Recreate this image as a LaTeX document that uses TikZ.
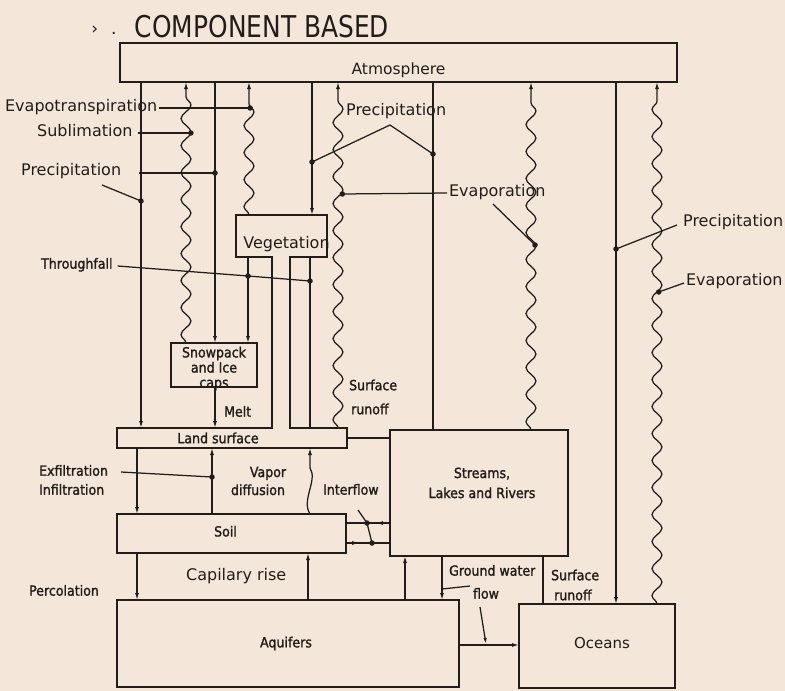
\documentclass[tikz,border=0pt]{standalone}
\usepackage{graphicx}
\usepackage{fontspec}
\setmainfont{DejaVu Sans}
\newfontfamily\lettB{DejaVu Sans}[FakeStretch=0.9,FakeBold=1.5]
\usetikzlibrary{arrows.meta,decorations.pathmorphing,decorations.markings}
\definecolor{paper}{RGB}{244,231,218}
\definecolor{ink}{RGB}{34,29,27}
% x position on a wavy line (x0, start y, y)
\newcommand\wx[3]{#1-5*sin(((#2-#3)/27)*360)}
\newcommand\vsh[2]{\raisebox{#1}[0pt][0pt]{#2}}
\begin{document}
\begin{tikzpicture}[x=1pt,y=-1pt,line width=1.25pt,color=ink,
  box/.style={draw,rectangle,inner sep=0pt,outer sep=0pt},
  lblA/.style={font=\fontsize{16}{19}\selectfont,inner sep=1.5pt,text height=0.73em,text depth=0pt},
  lblB/.style={font=\lettB\fontsize{14}{16}\selectfont,inner sep=1.5pt,text height=0.73em,text depth=0pt},
  lblBm/.style={font=\lettB\fontsize{14}{#1}\selectfont,inner sep=1.5pt},
  arr/.style={-{Latex[length=7pt,width=4pt]}},
  wavy/.style={decorate,decoration={snake,amplitude=5pt,segment length=27pt,post length=9pt}},
  midarr/.style={postaction={decorate},decoration={markings,mark=at position #1 with {\arrow{Latex[length=7pt,width=4pt]}}}},
  dotc/.style={fill,circle,inner sep=0pt,minimum size=5.5pt}]
\fill[paper] (0,0) rectangle (785,691);
\useasboundingbox (0,0) rectangle (785,691);

% title
\node[inner sep=0pt,font=\fontsize{17}{17}\selectfont] (mark) at (104,30) {›\hspace{13pt}.};
\node[inner sep=0pt,font=\fontsize{30}{30}\selectfont] (title) at (262,27) {\scalebox{0.83}[1]{COMPONENT BASED}};

% boxes
\node[box,minimum width=557,minimum height=39,font=\fontsize{15.5}{18}\selectfont] (atm) at (398.5,62.5) {\vsh{-12.2pt}{Atmosphere}};
\node[box,minimum width=86,minimum height=44,font=\lettB\fontsize{14}{15}\selectfont] (snow) at (214,365)
  {\vsh{-8pt}{\begin{tabular}[c]{@{}c@{}}Snowpack\\and Ice\\caps\end{tabular}}};
\node[rectangle,inner sep=0pt,outer sep=0pt,minimum width=91,minimum height=42,font=\fontsize{16}{19}\selectfont] (veg) at (281.5,236) {\vsh{-12.8pt}{\makebox[0pt]{\hspace*{10pt}Vegetation}}};
\node[rectangle,inner sep=0pt,outer sep=0pt,minimum width=230,minimum height=20,font=\lettB\fontsize{14}{16}\selectfont] (land) at (232,438) {\hspace*{-28pt}Land surface};
\draw (land.north west) -- (272,428) -- (272,257) -- (veg.south west) -- (veg.north west)
  -- (veg.north east) -- (veg.south east) -- (290,257) -- (290,428) -- (land.north east)
  -- (land.south east) -- (land.south west) -- cycle;
\node[box,minimum width=229,minimum height=39,font=\lettB\fontsize{14}{16}\selectfont] (soil) at (231.5,533.5) {\hspace*{-12pt}\vsh{-3pt}{Soil}};
\node[box,minimum width=178,minimum height=126,font=\lettB\fontsize{14}{20}\selectfont] (streams) at (479,493)
  {\hspace*{6pt}\vsh{5.4pt}{\begin{tabular}[c]{@{}c@{}}Streams,\\Lakes and Rivers\end{tabular}}};
\node[box,minimum width=342,minimum height=87,font=\lettB\fontsize{14}{16}\selectfont] (aquif) at (288,643.5) {\hspace*{-4pt}Aquifers};
\node[box,minimum width=156,minimum height=84,font=\fontsize{15}{18}\selectfont] (ocean) at (597,646) {\hspace*{10pt}\vsh{-2.5pt}{Oceans}};

% vertical exchanges with the atmosphere
\draw[arr] (atm.south -| 141,0) -- (land.north -| 141,0);
\draw[arr,wavy] (snow.north -| 186,0) -- (atm.south -| 186,0);
\draw[arr] (atm.south -| 215,0) -- (snow.north -| 215,0);
\draw[arr,wavy] (veg.north -| 249,0) -- (atm.south -| 249,0);
\draw[arr] (veg.south -| 248,0) -- (snow.north -| 248,0);
\draw[arr] (snow.south -| 215,0) -- (land.north -| 215,0);
\draw[arr] (atm.south -| 312,0) -- (veg.north -| 312,0);
\draw (veg.south -| 310,0) -- (land.north -| 310,0);
\draw[arr,wavy] (land.north -| 338,0) -- (atm.south -| 338,0);
\draw (atm.south -| 433,0) -- (streams.north -| 433,0);
\draw[arr,wavy] (streams.north -| 531,0) -- (atm.south -| 531,0);
\draw[arr] (atm.south -| 616,0) -- (ocean.north -| 616,0);
\draw[arr,wavy] (ocean.north -| 657,0) -- (atm.south -| 657,0);

% lower exchanges
\draw[arr] (land.south -| 137,0) -- (soil.north -| 137,0);
\draw[arr] (soil.north -| 212,0) -- (land.south -| 212,0);
\draw[arr] (soil.north -| 310,0) .. controls +(-9,-14) and +(8,12) .. (310,468) -- (land.south -| 310,0);
\draw (land.east) -- (streams.west |- land.east);
\draw[midarr=0.32] (streams.west |- 0,523) -- (soil.east |- 0,523);
\draw[midarr=0.3] (soil.east |- 0,543) -- (streams.west |- 0,543);
\draw[arr] (soil.south -| 137,0) -- (aquif.north -| 137,0);
\draw[arr] (aquif.north -| 308,0) -- (soil.south -| 308,0);
\draw[arr] (aquif.north -| 405,0) -- (streams.south -| 405,0);
\draw[arr] (streams.south -| 442,0) -- (aquif.north -| 442,0);
\draw (streams.south -| 543,0) -- (ocean.north -| 543,0);
\draw[arr] (aquif.east |- 0,645) -- (ocean.west |- 0,645);

% dots on the lines
\coordinate (dEvt) at ({\wx{249}{215}{108}},108);
\coordinate (dSub) at ({\wx{186}{343}{133}},133);
\coordinate (dPs) at (215,173);
\coordinate (dPl) at (141,201);
\coordinate (dThA) at (248,276);
\coordinate (dThB) at (310,281);
\coordinate (dPv) at (312,162);
\coordinate (dPst) at (433,154);
\coordinate (dEl) at ({\wx{338}{428}{194}},194);
\coordinate (dEs) at ({\wx{531}{430}{245}},245);
\coordinate (dPo) at (616,249);
\coordinate (dEo) at ({\wx{657}{604}{292}},292);
\coordinate (dEx) at (212,477);
\coordinate (dIa) at (367,523);
\coordinate (dIb) at (372,543);
\foreach \d in {dEvt,dSub,dPs,dPl,dThA,dThB,dPv,dPst,dEl,dEs,dPo,dEo,dEx,dIa,dIb}
  \node[dotc] at (\d) {};

% labels and leaders
\node[lblA,anchor=west] (lEvt) at (3,108) {Evapotranspiration};
\draw (lEvt.east) -- (dEvt);
\node[lblA,anchor=west] (lSub) at (35,133) {Sublimation};
\draw (lSub.east) ++(3,0) -- (dSub);
\node[lblA,anchor=west] (lPl) at (19,172) {Precipitation};
\draw (lPl.east) ++(16,1) -- (dPs);
\coordinate (lPlb) at (102,185);
\draw (lPlb) -- (dPl);
\node[lblB,anchor=west] (lThr) at (39,265) {Throughfall};
\draw (lThr.east) ++(3,1) -- (dThA) -- (dThB);
\node[lblA,anchor=west] (lPt) at (344,112) {Precipitation};
\coordinate (apex) at (390,125);
\draw (dPv) -- (apex) -- (dPst);
\node[lblA,anchor=west] (lEc) at (447,193) {Evaporation};
\draw (lEc.west) -- (dEl);
\coordinate (lEcb) at (493,204);
\draw (lEcb) -- (dEs);
\node[lblA,anchor=west] (lPr) at (681,223) {Precipitation};
\draw (lPr.west) ++(-4,2) -- (dPo);
\node[lblA,anchor=west] (lEr) at (684,282) {Evaporation};
\draw (lEr.west) ++(0,1) -- (dEo);
\node[lblBm=24,align=left,anchor=west] (lSr) at (347,397) {Surface\\\hspace*{2pt}runoff};
\node[lblB,anchor=west] (lMelt) at (222,413) {Melt};
\node[lblBm=19,align=left,anchor=west] (lExf) at (37,480) {Exfiltration\\Infiltration};
\coordinate (lExfa) at (121,472);
\draw (lExfa) -- (dEx);
\node[lblBm=18,align=center] (lVap) at (258,481) {\hspace*{20pt}Vapor\\diffusion};
\node[lblB,anchor=west] (lInt) at (321,491) {Interflow};
\coordinate (lInta) at (358,510);
\draw (lInta) -- (dIa) -- (dIb);
\node[lblA,anchor=west] (lCap) at (184,577) {Capilary rise};
\node[lblB,anchor=west] (lPerc) at (27,592) {Percolation};
\node[lblB,anchor=west] (lGw) at (447,572) {Ground water};
\node[lblB] (lFlow) at (486,595) {flow};
\coordinate (lGwa) at (470,586);
\coordinate (lGwb) at (442,589);
\draw (lGwa) -- (lGwb);
\coordinate (lFlowa) at (480,607);
\draw[-{Latex[length=6pt,width=3.5pt]}] (lFlowa) -- (486,644);
\node[lblBm=20,align=left,anchor=west] (lSr2) at (549,585) {Surface\\\hspace*{3pt}runoff};
\end{tikzpicture}
\end{document}
